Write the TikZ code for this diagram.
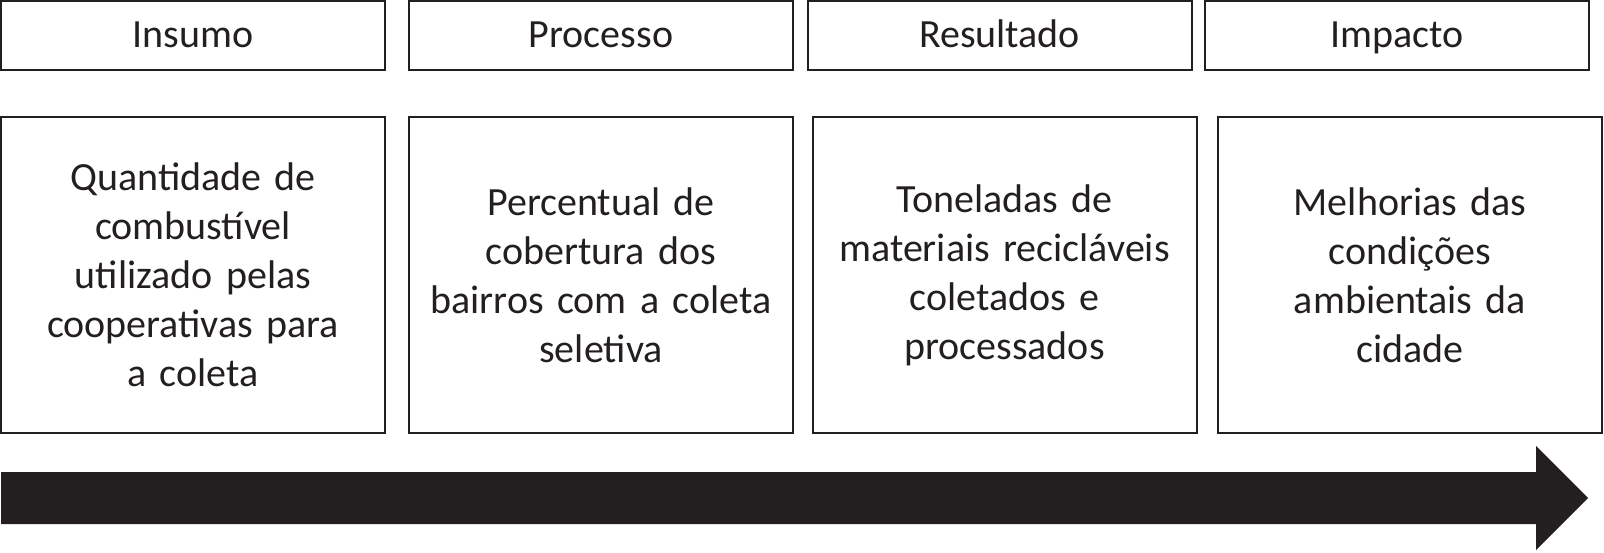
\documentclass[tikz,border=0pt]{standalone}
\usepackage{fontspec}
\setmainfont{Carlito}
\definecolor{inkblack}{HTML}{231F20}
\usetikzlibrary{positioning}

\tikzset{
  stagebox/.style={draw=inkblack, line width=1pt, minimum width=192pt, minimum height=34.5pt,
    inner sep=0pt, text height=14pt, text depth=2.5pt, text=inkblack, font=\fontsize{20}{24.5}\selectfont},
  metricbox/.style={draw=inkblack, line width=1pt, minimum width=192pt, minimum height=158pt,
    text width=186pt, align=center, inner sep=0pt, text=inkblack, font=\fontsize{20}{24.5}\selectfont},
}

\begin{document}
\begin{tikzpicture}[x=0.5pt, y=-0.5pt]
  \useasboundingbox (0,0) rectangle (1604,552);
  % stage headers
  \foreach \i/\x/\label in {1/193/Insumo, 2/601/Processo, 3/999.5/Resultado, 4/1397/Impacto} {
    \node[stagebox] (stage\i) at (\x, 35.5) {\label};
  }
  % indicators
  \foreach \i/\x/\label in {
    1/193/{Quantidade de\\combustível\\utilizado pelas\\cooperativas para\\a coleta},
    2/601/{Percentual de\\cobertura dos\\bairros com a coleta\\seletiva},
    3/1004.5/{Toneladas de\\materiais recicláveis\\coletados e\\processados},
    4/1410/{Melhorias das\\condições\\ambientais da\\cidade}} {
    \node[metricbox] (metric\i) at (\x, 275) {\label};
  }
  % timeline arrow
  \fill[inkblack] (1, 472) -- (1536, 472) -- (1536, 446) -- (1588, 498)
    -- (1536, 550) -- (1536, 524) -- (1, 524) -- cycle;
\end{tikzpicture}
\end{document}
